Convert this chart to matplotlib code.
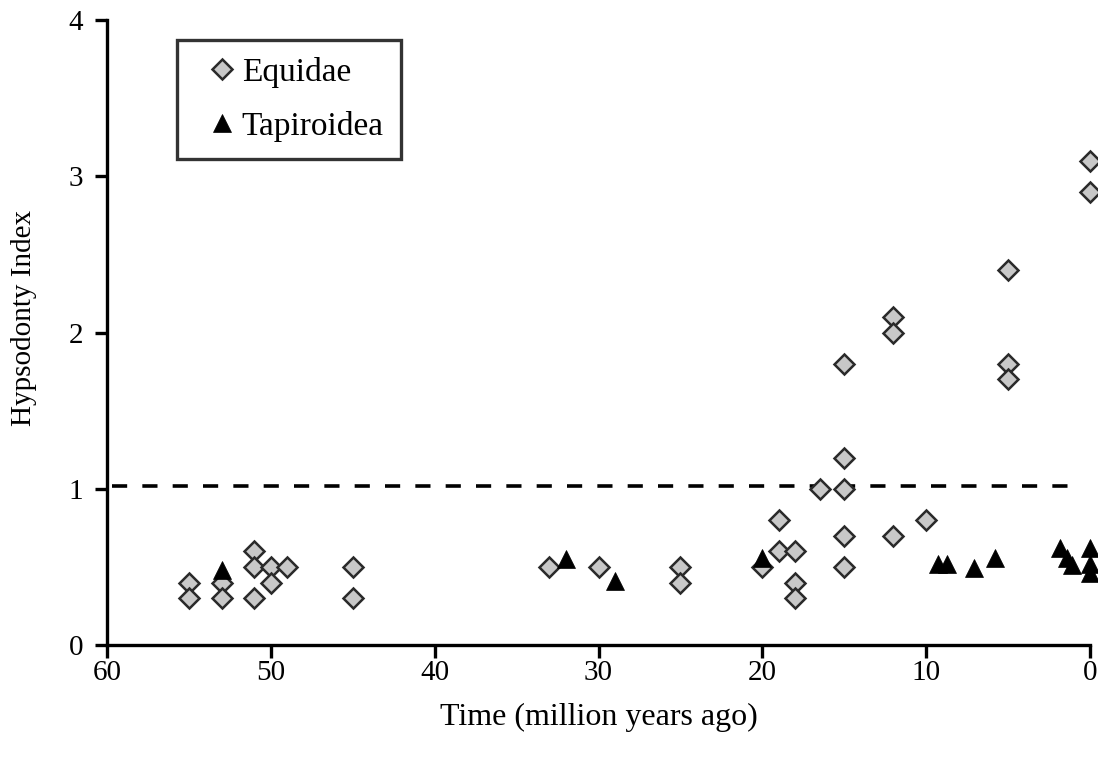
import matplotlib
matplotlib.use("Agg")
import matplotlib.pyplot as plt

# Data
equidae_time = [55, 55, 53, 53, 51, 51, 51, 50, 50, 49, 45, 45,
                33, 30, 25, 25, 20, 19, 19, 18, 18, 18,
                16.5, 15, 15, 15, 15, 15, 12, 12, 12, 10, 5, 5, 5, 0, 0]
equidae_hi = [0.4, 0.3, 0.4, 0.3, 0.6, 0.5, 0.3, 0.5, 0.4, 0.5, 0.5, 0.3,
              0.5, 0.5, 0.5, 0.4, 0.5, 0.8, 0.6, 0.6, 0.4, 0.3,
              1.0, 1.8, 1.2, 1.0, 0.7, 0.5, 2.1, 2.0, 0.7, 0.8, 2.4, 1.8, 1.7, 3.1, 2.9]
tapir_time = [53, 32, 29, 20, 9.3, 8.7, 7.1, 5.8, 1.8, 1.4, 1.1, 0, 0, 0]
tapir_hi = [0.48, 0.55, 0.41, 0.56, 0.52, 0.52, 0.49, 0.56, 0.62, 0.56, 0.51, 0.62, 0.52, 0.46]
threshold = 1.02
xticks = [60, 50, 40, 30, 20, 10, 0]
yticks = [0, 1, 2, 3, 4]

plt.rcParams['font.family'] = ['Liberation Serif', 'DejaVu Serif']

fig = plt.figure(figsize=(10.98, 7.61), dpi=100)
ax = fig.add_axes([0.0975, 0.1524, 0.8952, 0.8213])

ax.plot([59.7, 0.9], [threshold, threshold], color='black', lw=2.6,
        dashes=(4.2, 4.2), zorder=1)

ax.plot(equidae_time, equidae_hi, linestyle='none', marker='D', ms=10.5,
        mfc='#c8c8c8', mec='#2a2a2a', mew=1.8, label='Equidae', zorder=2,
        clip_on=False)
ax.plot(tapir_time, tapir_hi, linestyle='none', marker='^', ms=13,
        mfc='black', mec='black', mew=0.5, label='Tapiroidea', zorder=3,
        clip_on=False)

ax.set_xlim(60, 0)
ax.set_ylim(0, 4)
ax.set_xticks(xticks)
ax.set_yticks(yticks)
ax.spines['top'].set_visible(False)
ax.spines['right'].set_visible(False)
ax.spines['left'].set_linewidth(2.4)
ax.spines['bottom'].set_linewidth(2.4)
ax.tick_params(axis='both', direction='out', length=9, width=2.4,
               labelsize=21)
ax.tick_params(axis='x', pad=2)
ax.tick_params(axis='y', pad=8)
ax.set_xlabel('Time (million years ago)', fontsize=23, labelpad=12)
ax.set_ylabel('Hypsodonty Index', fontsize=21)
ax.yaxis.set_label_coords(-0.071, 0.523)

leg = ax.legend(loc='upper left', bbox_to_anchor=(0.071, 0.968),
                fontsize=24, frameon=True, fancybox=False,
                edgecolor='black', handletextpad=-0.25, handlelength=1.7,
                borderpad=0.5, labelspacing=0.7, markerscale=0.95,
                borderaxespad=0)
leg.get_frame().set_linewidth(2.4)

fig.savefig('out.png', dpi=100)
